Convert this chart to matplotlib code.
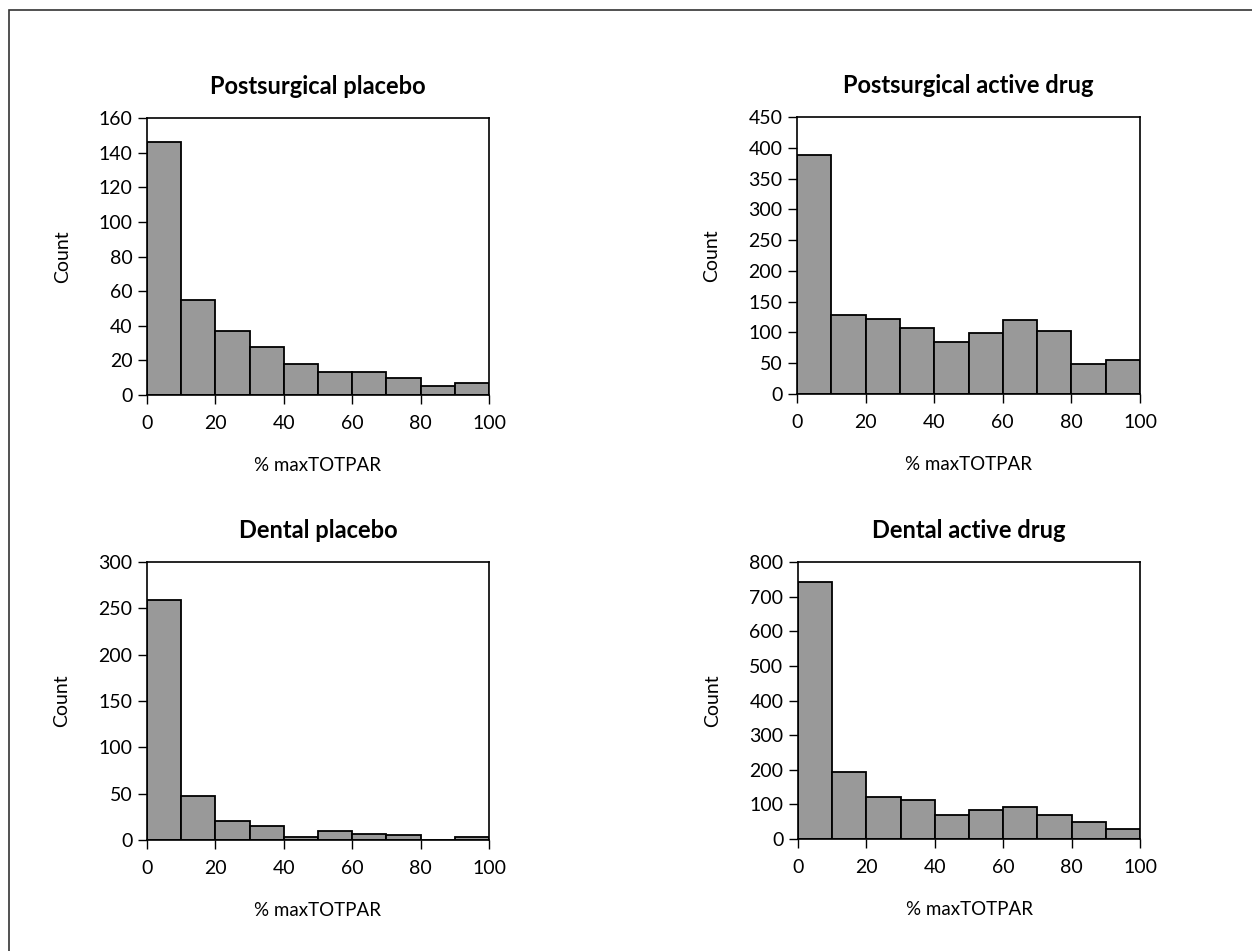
import numpy as np
import matplotlib
matplotlib.use('Agg')
from matplotlib import pyplot as plt
from matplotlib.patches import Rectangle

plt.rcParams['font.family'] = ['Lato', 'DejaVu Sans']

# bin edges shared by all four histograms (% maxTOTPAR)
bin_edges = [0, 10, 20, 30, 40, 50, 60, 70, 80, 90, 100]
x_ticks = [0, 20, 40, 60, 80, 100]

# counts per bin
post_placebo = [146, 55, 37, 28, 18, 13, 13, 10, 5, 7]
post_active = [389, 128, 122, 108, 84, 99, 121, 103, 48, 56]
dental_placebo = [259, 48, 20, 15, 3, 10, 7, 5, 0, 3]
dental_active = [742, 193, 120, 113, 68, 84, 92, 70, 48, 30]

titles = ['Postsurgical placebo', 'Postsurgical active drug',
          'Dental placebo', 'Dental active drug']
y_max = [160, 450, 300, 800]
y_step = [20, 50, 50, 100]
all_counts = [post_placebo, post_active, dental_placebo, dental_active]

W, H = 1252, 951
fig = plt.figure(figsize=(W / 100, H / 100), dpi=100)

# axes boxes in pixels: left, top, right, bottom
boxes = [(147, 118, 489, 395), (797, 117, 1140, 394),
         (147, 562, 489, 840), (798, 562, 1140, 839)]

for box, counts, title, ymax, step in zip(boxes, all_counts, titles, y_max, y_step):
    l, t, r, b = box
    ax = fig.add_axes([l / W, 1 - b / H, (r - l) / W, (b - t) / H])
    ax.bar(bin_edges[:-1], counts, width=10, align='edge',
           color='#999999', edgecolor='black', linewidth=1.3)
    ax.set_xlim(0, 100)
    ax.set_ylim(0, ymax)
    ax.set_xticks(x_ticks)
    ax.set_yticks(np.arange(0, ymax + 1, step))
    ax.tick_params(direction='out', length=6.5, width=1, labelsize=14)
    ax.tick_params(axis='x', pad=8)
    ax.tick_params(axis='y', pad=4)
    for s in ax.spines.values():
        s.set_linewidth(1.2)
    ax.set_title(title, fontsize=17, fontweight='bold', pad=17)
    ax.set_ylabel('Count', fontsize=14, labelpad=20)
    ax.set_xlabel('% maxTOTPAR', fontsize=13.5, labelpad=18)

# outer frame, only top and left edges are inside the picture
fig.add_artist(Rectangle((9 / W, -0.1), 1.2, 1.1 - 10 / H, transform=fig.transFigure,
                         fill=False, edgecolor='#333333', linewidth=1.2))

plt.savefig('out.png', dpi=100)
